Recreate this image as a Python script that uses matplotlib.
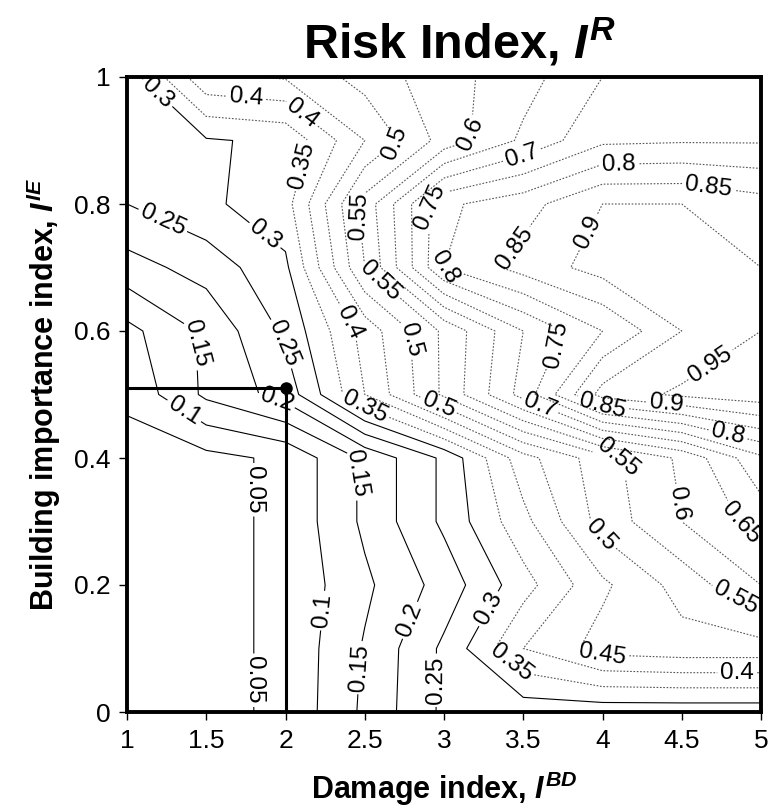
import numpy as np
import matplotlib
matplotlib.use("Agg")
import matplotlib.pyplot as plt
from matplotlib import font_manager

names = {f.name for f in font_manager.fontManager.ttflist}
NARROW = "Liberation Sans Narrow" in names
FAM = "Liberation Sans Narrow" if NARROW else "Liberation Sans"
S = 1.15 if NARROW else 1.0

plt.rcParams["font.family"] = [FAM, "DejaVu Sans"]
plt.rcParams["mathtext.fontset"] = "custom"
plt.rcParams["mathtext.rm"] = f"{FAM}:bold"
plt.rcParams["mathtext.it"] = f"{FAM}:italic:bold"
plt.rcParams["mathtext.bf"] = f"{FAM}:bold"

# ---------------- data ----------------
damage_index = [1.0, 1.5, 2.0, 2.5, 3.0, 3.5, 4.0, 4.5, 5.0]
importance_index = [0.0, 0.1, 0.2, 0.3, 0.4, 0.5, 0.6, 0.7, 0.8, 0.9, 1.0]

risk_y00 = [0.020, 0.035, 0.060, 0.160, 0.260, 0.270, 0.270, 0.270, 0.270]
risk_y01 = [0.020, 0.035, 0.060, 0.155, 0.260, 0.400, 0.470, 0.480, 0.480]
risk_y02 = [0.020, 0.035, 0.060, 0.140, 0.220, 0.330, 0.440, 0.520, 0.600]
risk_y03 = [0.025, 0.035, 0.060, 0.160, 0.260, 0.385, 0.520, 0.600, 0.670]
risk_y04 = [0.030, 0.035, 0.060, 0.160, 0.260, 0.430, 0.530, 0.610, 0.740]
risk_y05 = [0.060, 0.160, 0.220, 0.400, 0.560, 0.720, 0.920, 0.960, 0.980]
risk_y06 = [0.085, 0.160, 0.260, 0.420, 0.560, 0.700, 0.800, 0.900, 0.950]
risk_y07 = [0.180, 0.220, 0.290, 0.550, 0.800, 0.870, 0.920, 0.930, 0.900]
risk_y08 = [0.250, 0.290, 0.330, 0.570, 0.790, 0.830, 0.900, 0.900, 0.870]
risk_y09 = [0.270, 0.295, 0.310, 0.450, 0.570, 0.660, 0.740, 0.745, 0.745]
risk_y10 = [0.270, 0.440, 0.455, 0.520, 0.580, 0.630, 0.700, 0.720, 0.720]

contour_levels = [0.05, 0.1, 0.15, 0.2, 0.25, 0.3, 0.35, 0.4, 0.45, 0.5,
                  0.55, 0.6, 0.65, 0.7, 0.75, 0.8, 0.85, 0.9, 0.95]

selected_damage = 2.0
selected_importance = 0.51

x_ticks = [1, 1.5, 2, 2.5, 3, 3.5, 4, 4.5, 5]
x_tick_labels = ["1", "1.5", "2", "2.5", "3", "3.5", "4", "4.5", "5"]
y_ticks = [0, 0.2, 0.4, 0.6, 0.8, 1.0]
y_tick_labels = ["0", "0.2", "0.4", "0.6", "0.8", "1"]

# ---------------- figure ----------------
Z = np.array([risk_y00, risk_y01, risk_y02, risk_y03, risk_y04, risk_y05,
              risk_y06, risk_y07, risk_y08, risk_y09, risk_y10])
X, Y = np.meshgrid(damage_index, importance_index)

fig = plt.figure(figsize=(7.73, 8.08), dpi=100)
ax = fig.add_axes([127 / 773, 1 - 712 / 808, (761 - 127) / 773, (712 - 77) / 808])

cols = ["black" if lv <= 0.3 + 1e-9 else "#555555" for lv in contour_levels]
styles = ["solid" if lv <= 0.3 + 1e-9 else (0, (1.5, 1.5)) for lv in contour_levels]
cs = ax.contour(X, Y, Z, levels=contour_levels, colors=cols,
                linewidths=0.8, linestyles=styles)

label_spots = [
    (1.1, 0.95), (1.75, 0.96), (2.13, 0.95), (2.72, 0.885), (3.16, 0.91),
    (3.5, 0.87), (4.1, 0.855), (4.67, 0.83), (2.12, 0.86), (1.2, 0.76),
    (1.9, 0.76), (2.45, 0.78), (2.87, 0.795), (3.87, 0.76), (3.53, 0.715),
    (2.6, 0.68), (3.0, 0.695), (3.7, 0.58), (1.45, 0.58), (1.98, 0.58),
    (2.38, 0.61), (2.73, 0.585), (1.93, 0.48), (1.35, 0.47), (2.5, 0.48),
    (2.96, 0.48), (3.6, 0.48), (4.0, 0.48), (4.4, 0.48), (4.7, 0.54),
    (4.8, 0.445), (4.1, 0.4), (4.53, 0.33), (4.85, 0.29), (4.0, 0.28),
    (1.83, 0.35), (2.45, 0.375), (2.22, 0.16), (2.83, 0.14), (3.3, 0.16),
    (2.46, 0.07), (4.8, 0.16), (4.0, 0.08), (3.4, 0.07), (2.96, 0.05),
    (4.85, 0.06), (1.83, 0.05),
]
texts = ax.clabel(cs, levels=contour_levels, manual=label_spots, inline=True,
                  fmt="%g", fontsize=17.5 * S, inline_spacing=3)
for t in texts:
    t.set_color("black")

ax.plot([damage_index[0], selected_damage], [selected_importance, selected_importance],
        color="black", lw=2.2, solid_capstyle="butt", zorder=5)
ax.plot([selected_damage, selected_damage], [importance_index[0], selected_importance],
        color="black", lw=2.2, solid_capstyle="butt", zorder=5)
ax.plot([selected_damage], [selected_importance], "o", color="black", ms=8, zorder=6)

ax.set_xlim(1, 5)
ax.set_ylim(0, 1)
ax.set_xticks(x_ticks)
ax.set_xticklabels(x_tick_labels)
ax.set_yticks(y_ticks)
ax.set_yticklabels(y_tick_labels)
ax.tick_params(direction="out", length=6, width=1, labelsize=19 * S, pad=6)
for sp in ax.spines.values():
    sp.set_linewidth(2.8)

ax.set_xlabel(r"Damage index, $I^{BD}$", fontsize=22 * S, fontweight="bold", labelpad=12)
ax.set_ylabel(r"Building importance index, $I^{IE}$", fontsize=22 * S, fontweight="bold", labelpad=8)
fig.text(460 / 773, 1 - 58 / 808, r"Risk Index, $I^{R}$", fontsize=35 * S,
         fontweight="bold", ha="center", va="baseline")

fig.savefig("out.png", dpi=100)
